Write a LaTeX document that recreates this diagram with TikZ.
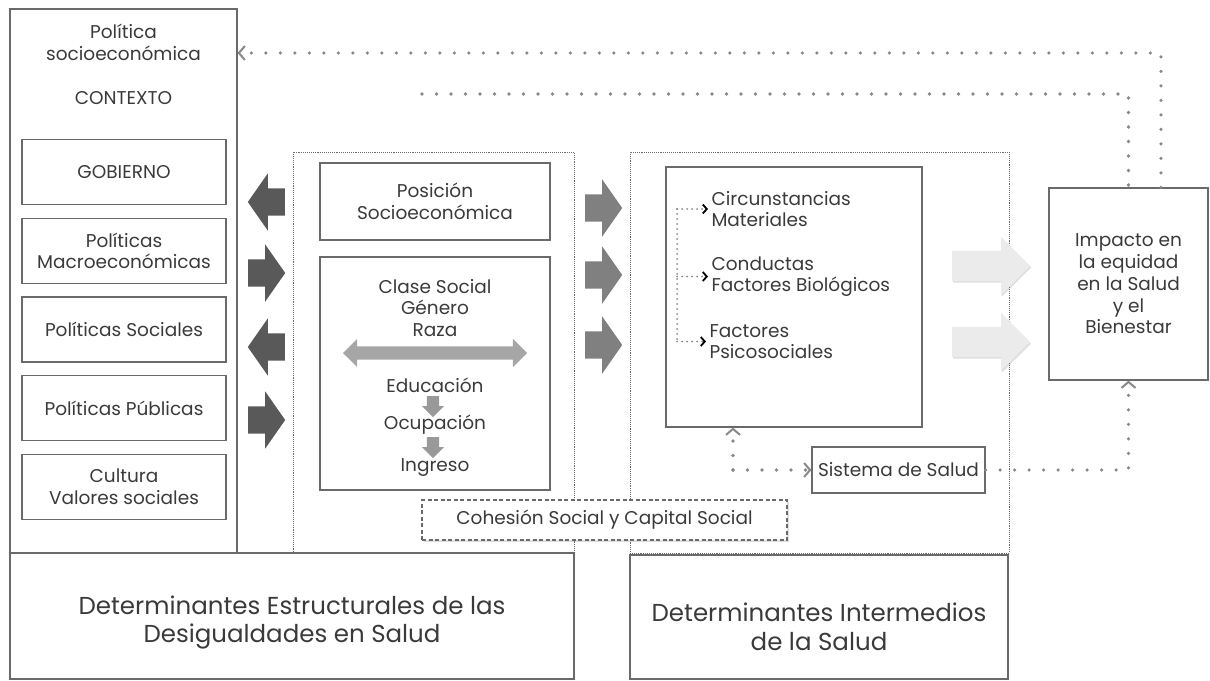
\documentclass[tikz,border=0pt]{standalone}
\usepackage{fontspec}
\setmainfont{Poppins}
\usepackage{tikz}
\usetikzlibrary{positioning}
\usetikzlibrary{shapes.arrows, arrows.meta, shadows}
\definecolor{txtgray}{HTML}{3A3A3A}
\definecolor{linegray}{HTML}{6A6A6A}
\definecolor{dotgray}{HTML}{888888}
\newcommand\boxfont{\fontsize{18.5}{21.7}\selectfont}
\newcommand\bigfont{\fontsize{24.5}{28.8}\selectfont}
\tikzstyle{box} = [draw=linegray, line width=1.2pt, inner sep=0pt, align=center]
\tikzstyle{dotbox} = [draw=linegray, densely dotted, line width=0.9pt]
\tikzstyle{dashbox} = [draw=linegray, dash pattern=on 4pt off 2.5pt, line width=1.3pt, fill=white, drop shadow={opacity=0.25, shadow xshift=1.5pt, shadow yshift=-1.5pt}]
\tikzstyle{dotline} = [draw=dotgray, line width=3.6pt, dash pattern=on 0pt off 14.5pt, line cap=round]
\tikzstyle{finedot} = [draw=dotgray, line width=2pt, dash pattern=on 0pt off 5pt, line cap=round]
\tikzstyle{graytip} = [-{Straight Barb[length=6pt,width=14pt,line width=2pt]}]
\tikzstyle{blacktip} = [-{Straight Barb[length=4pt,width=9pt,line width=1.8pt,color=black]}]
\tikzstyle{blockarrow} = [single arrow, anchor=tail, inner sep=0pt, text height=27pt, text depth=0pt, minimum height=37pt, minimum width=57pt, single arrow head extend=15pt, single arrow tip angle=110]
\tikzstyle{lightarrow} = [single arrow, anchor=tail, inner sep=0pt, text height=30pt, text depth=0pt, fill=black!8, minimum height=78pt, minimum width=58pt, single arrow head extend=14pt, drop shadow={opacity=0.25, shadow xshift=1pt, shadow yshift=-1.5pt}]
\tikzstyle{downarrow} = [single arrow, anchor=tail, inner sep=0pt, text width=12pt, fill=black!40, minimum height=21pt, minimum width=22pt, single arrow head extend=5pt, shape border rotate=270]

\begin{document}
\begin{tikzpicture}[x=1pt, y=-1pt, font=\boxfont, text=txtgray, every node/.append style={align=center}]
\useasboundingbox (0,0) rectangle (1210,680);

%Nodes
\node (contexto) [box, minimum width=227pt, minimum height=544pt] at (123.5,281) {};
\node (polsoc) at (123.5,42) {Política\\socioeconómica};
\node (ctxtext) at (123.5,98) {CONTEXTO};
\node (gobierno) [box, minimum width=204pt, minimum height=65pt] at (124,172) {GOBIERNO};
\node (macro) [box, minimum width=204pt, minimum height=65pt, below=12.5pt of gobierno] {Políticas\\Macroeconómicas};
\node (sociales) [box, minimum width=204pt, minimum height=65pt, below=12.5pt of macro] {Políticas Sociales};
\node (publicas) [box, minimum width=204pt, minimum height=65pt, below=12.5pt of sociales] {Políticas Públicas};
\node (cultura) [box, minimum width=204pt, minimum height=65pt, below=12.5pt of publicas] {Cultura\\Valores sociales};

\node (struct) [dotbox, minimum width=281pt, minimum height=401pt] at (433.5,352.5) {};
\node (inter) [dotbox, minimum width=379pt, minimum height=401pt] at (819.5,352.5) {};

\node (posicion) [box, minimum width=230pt, minimum height=77pt] at (435,201.5) {Posición\\Socioeconómica};
\node (clase) [box, minimum width=230pt, minimum height=233pt] at (435,373.5) {};
\node (genero) at (435,308) {Clase Social\\Género\\Raza};
\node (educ) at (435,385) {Educación};
\node (ocup) at (435,425) {Ocupación};
\node (ingreso) at (435,468) {Ingreso};
\node (eje) [double arrow, inner sep=0pt, text height=13pt, text depth=0pt, fill=black!35, minimum height=184pt, minimum width=28pt, double arrow head extend=7.5pt] at (435,353) {};
\node (flecha1) [downarrow] at (433,396) {};
\node (flecha2) [downarrow] at (433,437) {};

\node (circ) [box, minimum width=256pt, minimum height=260pt] at (794,297) {};
\node (material) [anchor=west, align=left] at (708,209) {Circunstancias\\Materiales};
\node (conducta) [anchor=west, align=left] at (708,276.5) {Conductas\\Factores Biológicos};
\node (psico) [anchor=west, align=left] at (706,341.5) {Factores\\Psicosociales};
\coordinate (brk) at (677,0);

\node (sistema) [box, minimum width=173pt, minimum height=46pt] at (898.5,470) {Sistema de Salud};
\coordinate (esq) at (733,470);
\node (cohesion) [dashbox, minimum width=365pt, minimum height=40pt] at (604.5,520) {Cohesión Social y Capital Social};

\node (impacto) [box, minimum width=159pt, minimum height=192pt] at (1128.5,284) {Impacto en\\la equidad\\en la Salud\\y el\\Bienestar};

\node (desbox) [box, minimum width=564pt, minimum height=126pt] at (292,616) {};
\node (destext) [font=\bigfont] at (292,622.5) {Determinantes Estructurales de las\\Desigualdades en Salud};
\node (intbox) [box, minimum width=378pt, minimum height=124pt] at (819,617) {};
\node (inttext) [font=\bigfont] at (819,626.5) {Determinantes Intermedios\\de la Salud};

%Block arrows
\node (ar1) [blockarrow, fill=black!65, shape border rotate=180] at (285,202) {};
\node (ar2) [blockarrow, fill=black!65] at (248,273) {};
\node (ar3) [blockarrow, fill=black!65, shape border rotate=180] at (285,347) {};
\node (ar4) [blockarrow, fill=black!65] at (248,420) {};
\node (am1) [blockarrow, fill=black!50] at (585,208) {};
\node (am2) [blockarrow, fill=black!50] at (585,275) {};
\node (am3) [blockarrow, fill=black!50] at (585,345) {};
\node (al1) [lightarrow] at (952,266) {};
\node (al2) [lightarrow] at (952,342) {};

%Lines
\coordinate (top1) at (1161,53);
\coordinate (top2) at (422,94);
\draw[dotline, graytip] (top1 |- impacto.north) -- (top1) -- (contexto.east |- top1);
\draw[dotline] (top2) -- (top2 -| impacto.north) -- (impacto.north);
\draw[dotline, graytip] (sistema.east) -- (sistema.east -| impacto.south) -- (impacto.south);
\draw[dotline, graytip] (esq) -- (sistema.west);
\draw[dotline, graytip] (esq) -- (esq |- circ.south);

\draw[finedot] (material.west -| brk) -- (psico.west -| brk);
\draw[finedot, blacktip] (material.west -| brk) -- (material.west);
\draw[finedot, blacktip] (conducta.west -| brk) -- (conducta.west);
\draw[finedot, blacktip] (psico.west -| brk) -- (psico.west);
\end{tikzpicture}
\end{document}
